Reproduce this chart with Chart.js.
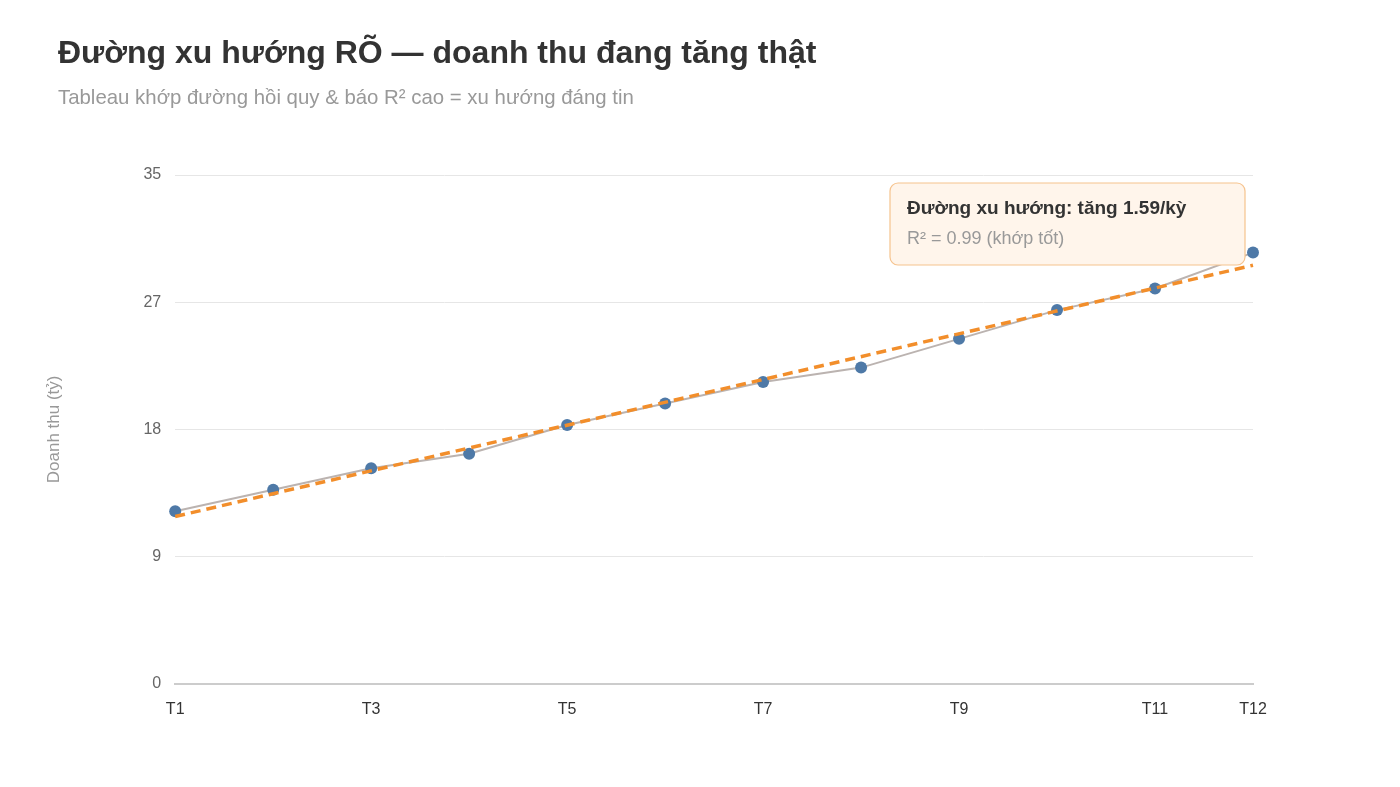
<!DOCTYPE html>
<html>
<head>
<meta charset="utf-8">
<script src="https://cdn.jsdelivr.net/npm/chart.js@4.4.1/dist/chart.umd.min.js"></script>
<style>
  html, body { margin: 0; padding: 0; background: #fff; }
  body { width: 1400px; height: 787px; position: relative; overflow: hidden; font-family: "Liberation Sans", Arial, sans-serif; }
  #title { position: absolute; left: 58px; top: 34px; font-size: 32px; font-weight: bold; color: #333; }
  #subtitle { position: absolute; left: 58px; top: 86px; font-size: 20.4px; color: #999; }
  #chart { position: absolute; left: 0; top: 0; }
</style>
</head>
<body>
<canvas id="chart" width="1400" height="787"></canvas>
<div id="title">Đường xu hướng RÕ — doanh thu đang tăng thật</div>
<div id="subtitle">Tableau khớp đường hồi quy &amp; báo R² cao = xu hướng đáng tin</div>
<script>
// data
const periods = [1, 2, 3, 4, 5, 6, 7, 8, 9, 10, 11, 12];
const revenue = [12.0, 13.5, 15.0, 16.0, 18.0, 19.5, 21.0, 22.0, 24.0, 26.0, 27.5, 30.0];
const trendX = [1, 12];
const trendValues = [11.64, 29.12];
const xTickValues = [1, 3, 5, 7, 9, 11, 12];
const yTickLabels = ['0', '9', '18', '27', '35'];

const noteLine1 = 'Đường xu hướng: tăng 1.59/kỳ';
const noteLine2 = 'R² = 0.99 (khớp tốt)';

const FONT = '"Liberation Sans", Arial, sans-serif';

// annotation box in the top-right corner of the plot
const noteBox = {
    id: 'noteBox',
    afterDraw(chart) {
        const { ctx, chartArea } = chart;
        const w = 355, h = 82;
        const x = chartArea.right - 8 - w;
        const y = chartArea.top + 8;
        ctx.save();
        ctx.beginPath();
        ctx.roundRect(x, y, w, h, 8);
        ctx.fillStyle = '#fff5eb';
        ctx.fill();
        ctx.lineWidth = 1.2;
        ctx.strokeStyle = '#f6c38e';
        ctx.stroke();
        ctx.textBaseline = 'middle';
        ctx.fillStyle = '#333';
        ctx.font = 'bold 19px ' + FONT;
        ctx.fillText(noteLine1, x + 17, y + 26);
        ctx.fillStyle = '#999';
        ctx.font = '18px ' + FONT;
        ctx.fillText(noteLine2, x + 17, y + 56);
        ctx.restore();
    }
};

const ctx = document.getElementById('chart').getContext('2d');
new Chart(ctx, {
    type: 'line',
    data: {
        datasets: [
            {
                label: 'Trend',
                data: trendX.map((x, i) => ({ x: x, y: trendValues[i] })),
                borderColor: '#f28e2b',
                borderWidth: 3.5,
                borderDash: [10, 6],
                pointRadius: 0,
                fill: false,
                clip: false,
                order: 0
            },
            {
                label: 'Doanh thu',
                data: periods.map((x, i) => ({ x: x, y: revenue[i] })),
                borderColor: '#bbb3b0',
                borderWidth: 2,
                pointRadius: 6,
                pointBackgroundColor: '#4e79a7',
                pointBorderWidth: 0,
                fill: false,
                clip: false,
                order: 1
            }
        ]
    },
    options: {
        responsive: false,
        animation: false,
        layout: { padding: { left: 40, right: 147, top: 175, bottom: 52 } },
        plugins: {
            legend: { display: false },
            tooltip: { enabled: false }
        },
        scales: {
            x: {
                type: 'linear',
                min: 1,
                max: 12,
                afterBuildTicks(scale) {
                    scale.ticks = xTickValues.map(v => ({ value: v }));
                },
                ticks: {
                    autoSkip: false,
                    maxRotation: 0,
                    color: '#333',
                    font: { size: 16, family: FONT },
                    padding: 16,
                    callback: v => 'T' + v
                },
                grid: { display: false, drawTicks: false },
                border: { display: true, color: '#cccccc', width: 2 }
            },
            y: {
                min: 0,
                max: 35.4,
                afterBuildTicks(scale) {
                    scale.ticks = yTickLabels.map((t, i) => ({ value: i * 35.4 / 4 }));
                },
                ticks: {
                    color: '#666',
                    font: { size: 16, family: FONT },
                    padding: 14,
                    callback: (v, i) => yTickLabels[i]
                },
                grid: { color: '#e6e6e6', lineWidth: 1, drawTicks: false },
                border: { display: false },
                title: {
                    display: true,
                    text: 'Doanh thu (tỷ)',
                    color: '#999',
                    font: { size: 17, family: FONT },
                    padding: { bottom: 65 }
                }
            }
        }
    },
    plugins: [noteBox]
});
</script>
</body>
</html>
